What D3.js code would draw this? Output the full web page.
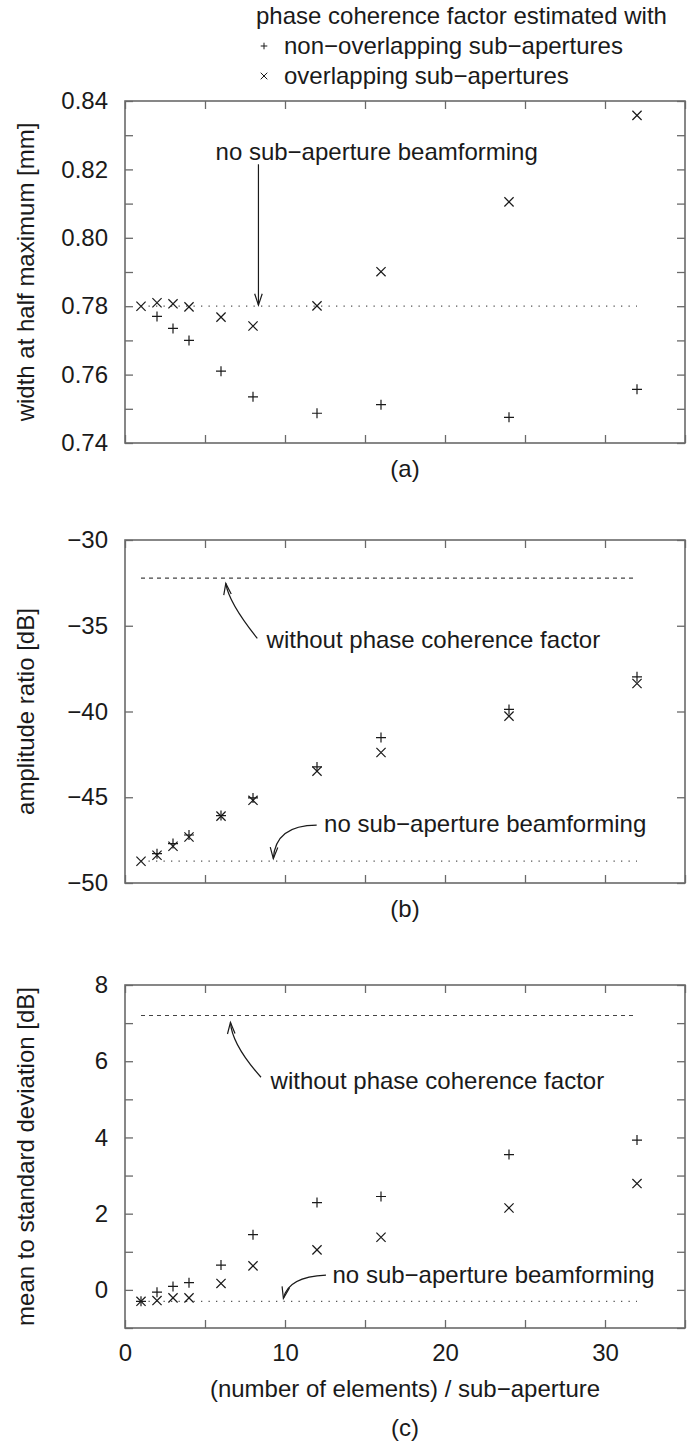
<!DOCTYPE html>
<html><head><meta charset="utf-8">
<script src="https://d3js.org/d3.v7.min.js"></script>
<style>
body{margin:0;background:#fff;}
svg{display:block;font-family:'Liberation Sans',Arial,sans-serif;}
</style></head><body>
<svg id="chart"></svg>
<script>
// number of elements per sub-aperture
const elems=[1,2,3,4,6,8,12,16,24,32];
// (a) width at half maximum [mm]  (null: no visible mark)
const fwhmNonOverlap=[null,0.777,0.7735,0.770,0.761,0.7535,0.7487,0.7512,0.7475,0.7557];
const fwhmOverlap=[0.780,0.781,0.7807,0.7798,0.7768,0.7742,0.7801,0.7901,0.8105,0.8358];
const fwhmNoSub=0.780;
// (b) amplitude ratio [dB]
const ampNonOverlap=[null,-48.29,-47.70,-47.20,-46.07,-45.04,-43.23,-41.52,-39.88,-37.98];
const ampOverlap=[-48.73,-48.38,-47.86,-47.32,-46.10,-45.18,-43.48,-42.39,-40.27,-38.37];
const ampNoSub=-48.73, ampNoPcf=-32.22;
// (c) mean to standard deviation [dB]
const msdNonOverlap=[-0.30,-0.06,0.09,0.19,0.65,1.45,2.29,2.45,3.55,3.93];
const msdOverlap=[-0.30,-0.28,-0.21,-0.21,0.17,0.63,1.05,1.38,2.15,2.79];
const msdNoSub=-0.30, msdNoPcf=7.2;

const xTicks=[0,5,10,15,20,25,30,35];
const xTickLabels=[0,10,20,30];
const fwhmTicks=[0.74,0.75,0.76,0.77,0.78,0.79,0.80,0.81,0.82,0.83,0.84];
const fwhmTickLabels=[0.74,0.76,0.78,0.80,0.82,0.84];
const ampTicks=[-50,-45,-40,-35,-30];
const msdTicks=[-1,0,1,2,3,4,5,6,7,8];
const msdTickLabels=[0,2,4,6,8];

const W=697,H=1443,FS=24;
const svg=d3.select('#chart').attr('width',W).attr('height',H);
svg.append('rect').attr('width',W).attr('height',H).attr('fill','#fff');
const x=d3.scaleLinear().domain([0,35]).range([125,685]);
const ink='#1a1a1a', frame='#6a6a6a';

const plus=h=>`M${-h},0H${h}M0,${-h}V${h}`;
const times=h=>`M${-h},${-h}L${h},${h}M${-h},${h}L${h},${-h}`;

const panels=[
  {tag:'(a)',top:101,bottom:443,dom:[0.74,0.84],ticks:fwhmTicks,labels:fwhmTickLabels,
   fmt:d3.format('.2f'),title:'width at half maximum [mm]',
   non:fwhmNonOverlap,ovl:fwhmOverlap,noSub:fwhmNoSub,noPcf:null,
   notes:[{text:'no sub−aperture beamforming',tx:5.66,ty:0.8227,
           from:[8.34,0.8215],to:[8.34,0.7803],ctrl:null}]},
  {tag:'(b)',top:540,bottom:883,dom:[-50,-30],ticks:ampTicks,labels:ampTicks,
   fmt:d3.format('d'),title:'amplitude ratio [dB]',
   non:ampNonOverlap,ovl:ampOverlap,noSub:ampNoSub,noPcf:ampNoPcf,
   notes:[{text:'without phase coherence factor',tx:8.85,ty:-36.32,
           from:[8.27,-35.74],to:[6.3,-32.53],ctrl:[6.48,-33.65]},
          {text:'no sub−aperture beamforming',tx:12.44,ty:-47.02,
           from:[11.98,-46.63],to:[9.27,-48.58],ctrl:[9.4,-46.63]}]},
  {tag:'(c)',top:985,bottom:1328,dom:[-1,8],ticks:msdTicks,labels:msdTickLabels,
   fmt:d3.format('d'),title:'mean to standard deviation [dB]',
   non:msdNonOverlap,ovl:msdOverlap,noSub:msdNoSub,noPcf:msdNoPcf,
   notes:[{text:'without phase coherence factor',tx:9.1,ty:5.28,
           from:[8.5,5.58],to:[6.59,7.02],ctrl:[6.69,6.43]},
          {text:'no sub−aperture beamforming',tx:12.97,ty:0.19,
           from:[12.56,0.39],to:[9.9,-0.22],ctrl:[10.19,0.35]}]}
];

function head(g,tip,back){
  const a=Math.atan2(tip[1]-back[1],tip[0]-back[0]),L=12,s=0.32;
  const p1=[tip[0]-L*Math.cos(a-s),tip[1]-L*Math.sin(a-s)];
  const p2=[tip[0]-L*Math.cos(a+s),tip[1]-L*Math.sin(a+s)];
  g.append('path').attr('d',`M${p1}L${tip}L${p2}`)
   .attr('fill','none').attr('stroke',ink).attr('stroke-width',1.2);
}

panels.forEach((p,pi)=>{
  const y=d3.scaleLinear().domain(p.dom).range([p.bottom,p.top]);
  const g=svg.append('g');
  const last=pi===panels.length-1;
  // axes with inward ticks
  const styleAx=a=>{a.select('.domain').remove();
    a.selectAll('line').attr('stroke',frame).attr('stroke-width',1.3);
    a.selectAll('text').attr('font-size',FS).attr('font-family',null).attr('fill',ink);};
  g.append('g').attr('transform',`translate(${x(0)},0)`)
   .call(d3.axisLeft(y).tickValues(p.ticks).tickSize(-8).tickPadding(17)
     .tickFormat(d=>p.labels.some(v=>Math.abs(v-d)<1e-9)?p.fmt(d):''))
   .call(styleAx);
  g.append('g').attr('transform',`translate(${x(35)},0)`)
   .call(d3.axisRight(y).tickValues(p.ticks).tickSize(-8).tickFormat(''))
   .call(styleAx);
  g.append('g').attr('transform',`translate(0,${p.bottom})`)
   .call(d3.axisBottom(x).tickValues(xTicks).tickSize(-8).tickPadding(16)
     .tickFormat(d=>last&&xTickLabels.includes(d)?d3.format('d')(d):''))
   .call(styleAx);
  g.append('g').attr('transform',`translate(0,${p.top})`)
   .call(d3.axisTop(x).tickValues(xTicks).tickSize(-8).tickFormat(''))
   .call(styleAx);
  g.append('rect').attr('x',x(0)).attr('y',p.top)
   .attr('width',x(35)-x(0)).attr('height',p.bottom-p.top)
   .attr('fill','none').attr('stroke',frame).attr('stroke-width',1.6);

  // reference lines
  g.append('line').attr('x1',x(1)).attr('x2',x(32))
   .attr('y1',y(p.noSub)).attr('y2',y(p.noSub))
   .attr('stroke','#555').attr('stroke-width',1.3).attr('stroke-dasharray','1.3,6.2');
  if(p.noPcf!==null)
    g.append('line').attr('x1',x(1)).attr('x2',x(32))
     .attr('y1',y(p.noPcf)).attr('y2',y(p.noPcf))
     .attr('stroke','#444').attr('stroke-width',1.2).attr('stroke-dasharray','4,4');

  // markers
  const pts=vals=>elems.map((d,i)=>({x:d,v:vals[i]})).filter(d=>d.v!==null);
  g.selectAll('.ov').data(pts(p.ovl)).join('path')
   .attr('transform',d=>`translate(${x(d.x)},${y(d.v)})`)
   .attr('d',times(4.6)).attr('fill','none').attr('stroke',ink).attr('stroke-width',1.2);
  g.selectAll('.nv').data(pts(p.non)).join('path')
   .attr('transform',d=>`translate(${x(d.x)},${y(d.v)})`)
   .attr('d',plus(5)).attr('fill','none').attr('stroke',ink).attr('stroke-width',1.2);

  // annotations
  p.notes.forEach(n=>{
    g.append('text').attr('x',x(n.tx)).attr('y',y(n.ty)).attr('font-size',FS)
     .attr('fill',ink).text(n.text);
    const f=[x(n.from[0]),y(n.from[1])],t=[x(n.to[0]),y(n.to[1])];
    let back=f;
    const path=d3.path(); path.moveTo(f[0],f[1]);
    if(n.ctrl){const c=[x(n.ctrl[0]),y(n.ctrl[1])];path.quadraticCurveTo(c[0],c[1],t[0],t[1]);back=c;}
    else path.lineTo(t[0],t[1]);
    g.append('path').attr('d',path.toString()).attr('fill','none')
     .attr('stroke',ink).attr('stroke-width',1.2);
    head(g,t,back);
  });

  // axis title and panel tag
  const cy=(p.top+p.bottom)/2;
  g.append('text').attr('transform',`translate(26,${cy}) rotate(-90)`)
   .attr('text-anchor','middle').attr('dy','0.35em').attr('font-size',FS)
   .attr('fill',ink).text(p.title);
  const tagY=last?1436:p.bottom+34;
  g.append('text').attr('x',x(17.5)).attr('y',tagY).attr('text-anchor','middle')
   .attr('font-size',FS).attr('fill',ink).text(p.tag);
  if(last)
    g.append('text').attr('x',x(17.5)).attr('y',1397).attr('text-anchor','middle')
     .attr('font-size',FS).attr('fill',ink).text('(number of elements) / sub−aperture');
});

// legend
const lg=svg.append('g');
lg.append('text').attr('x',256).attr('y',24).attr('font-size',FS).attr('fill',ink)
  .text('phase coherence factor estimated with');
[['non−overlapping sub−apertures',plus],['overlapping sub−apertures',times]].forEach((e,i)=>{
  const yy=54+30*i;
  lg.append('path').attr('transform',`translate(264,${yy-8})`).attr('d',e[1](3.3))
    .attr('fill','none').attr('stroke',ink).attr('stroke-width',1);
  lg.append('text').attr('x',284).attr('y',yy).attr('font-size',FS).attr('fill',ink).text(e[0]);
});
</script>
</body></html>
